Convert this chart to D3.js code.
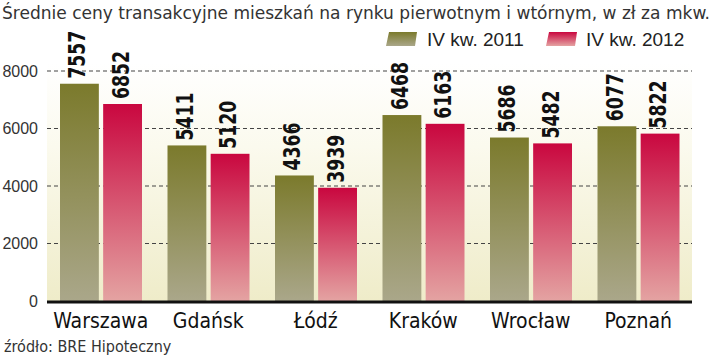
<!DOCTYPE html>
<html><head><meta charset="utf-8">
<script src="https://cdn.jsdelivr.net/npm/d3@7"></script>
<style>body{margin:0;background:#fff}svg{display:block}</style>
</head><body>
<svg id="c" width="720" height="360"></svg>
<script>
const categories = ["Warszawa","Gdańsk","Łódź","Kraków","Wrocław","Poznań"];
const series = ["IV kw. 2011","IV kw. 2012"];
const values2011 = [7557,5411,4366,6468,5686,6077];
const values2012 = [6852,5120,3939,6163,5482,5822];
const yTicks = [0,2000,4000,6000,8000];
const title = "Średnie ceny transakcyjne mieszkań  na rynku pierwotnym i wtórnym, w zł za mkw.";
const source = "źródło: BRE Hipoteczny";

const svg = d3.select("#c");
const narrow = "'Liberation Sans Narrow','Arial Narrow','DejaVu Sans Condensed',sans-serif";
const defs = svg.append("defs");
function grad(id, stops){
  const g = defs.append("linearGradient").attr("id",id).attr("x1",0).attr("y1",0).attr("x2",0).attr("y2",1);
  stops.forEach(s=>g.append("stop").attr("offset",s[0]).attr("stop-color",s[1]));
}
grad("gOlive",[[0,"#7b7a2c"],[1,"#aaa78a"]]);
grad("gRed",[[0,"#c9073f"],[1,"#e4a3a2"]]);
grad("gBg",[[0,"#ffffff"],[0.35,"#fbfaee"],[1,"#efecc9"]]);

const x0 = d3.scaleBand().domain(categories).range([47,692]).paddingInner(0).paddingOuter(0);
const x1 = d3.scaleBand().domain(series).range([13,95]).paddingInner(0.1);
const y = d3.scaleLinear().domain([0,8000]).range([301,71]);

svg.append("rect").attr("x",47).attr("y",y(8000)-8).attr("width",645).attr("height",y(0)-y(8000)+8).attr("fill","url(#gBg)");

// grid
svg.append("g").selectAll("line").data(yTicks.filter(d=>d>0)).join("line")
  .attr("x1",47).attr("x2",692).attr("y1",d=>y(d)).attr("y2",d=>y(d))
  .attr("stroke","#444").attr("stroke-width",1.2).attr("stroke-dasharray","4,3");

// y axis labels
const yAxis = d3.axisLeft(y).tickValues(yTicks).tickSize(0).tickPadding(9).tickFormat(d3.format("d"));
const ya = svg.append("g").attr("transform","translate(47,0)").call(yAxis);
ya.select(".domain").remove();
ya.selectAll("text").attr("font-family","'Liberation Sans',Arial,sans-serif").attr("font-size",16).attr("fill","#333");

const data = categories.map((c,i)=>({c, v:[values2011[i],values2012[i]]}));
const g = svg.append("g").selectAll("g").data(data).join("g").attr("transform",d=>`translate(${x0(d.c)},0)`);
g.selectAll("rect").data(d=>d.v.map((v,j)=>({s:series[j],v}))).join("rect")
  .attr("x",d=>x1(d.s)).attr("width",x1.bandwidth())
  .attr("y",d=>y(d.v)).attr("height",d=>y(0)-y(d.v))
  .attr("fill",d=>d.s===series[0]?"url(#gOlive)":"url(#gRed)");
g.selectAll("text.val").data(d=>d.v.map((v,j)=>({s:series[j],v}))).join("text").attr("class","val")
  .attr("transform",d=>`translate(${x1(d.s)+x1.bandwidth()/2+6},${y(d.v)-5}) rotate(-90)`)
  .attr("font-family","'DejaVu Sans Condensed','DejaVu Sans',sans-serif").attr("font-weight","bold").attr("font-size",23)
  .attr("textLength",48).attr("lengthAdjust","spacingAndGlyphs")
  .attr("fill","#111").text(d=>d.v);

// baseline
svg.append("line").attr("x1",47).attr("x2",692).attr("y1",y(0)+1).attr("y2",y(0)+1).attr("stroke","#111").attr("stroke-width",3);

// x axis labels
const xAxis = d3.axisBottom(x0).tickSize(0).tickPadding(10);
const xa = svg.append("g").attr("transform",`translate(0,${y(0)+2})`).call(xAxis);
xa.select(".domain").remove();
xa.selectAll("text").attr("font-family",narrow).attr("font-size",21).attr("fill","#111");

// title
svg.append("text").attr("x",2).attr("y",19).attr("font-family",narrow).attr("font-size",18)
  .attr("fill","#333").attr("textLength",708).attr("lengthAdjust","spacingAndGlyphs").text(title);

// legend
const leg = [{s:series[0],x:386,tx:427,f:"url(#gOlive)"},{s:series[1],x:546,tx:586,f:"url(#gRed)"}];
const lg = svg.append("g").selectAll("g").data(leg).join("g");
lg.append("path").attr("d",d=>`M${d.x+3},32 L${d.x+31},32 L${d.x+29},46 L${d.x},46 Z`).attr("fill",d=>d.f);
lg.append("text").attr("x",d=>d.tx).attr("y",46).attr("font-family","'Liberation Sans',sans-serif").attr("font-size",19)
  .attr("fill","#222").text(d=>d.s);

// source
svg.append("text").attr("x",4).attr("y",352).attr("font-family",narrow).attr("font-size",16).attr("fill","#333").text(source);
</script>
</body></html>
